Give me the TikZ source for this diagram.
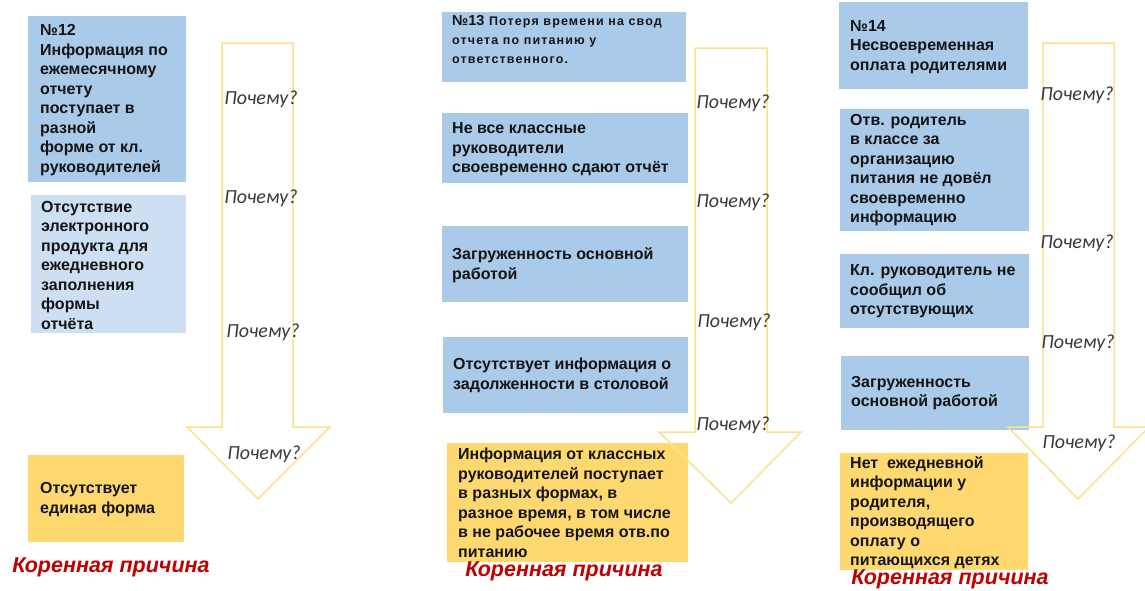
\documentclass[tikz,border=0pt]{standalone}
\usepackage{fontspec}
\setmainfont{Liberation Sans}
\newfontfamily\whyfont{Carlito}
\definecolor{cblue}{HTML}{AACAEA}
\definecolor{clblue}{HTML}{CDE0F3}
\definecolor{cyel}{HTML}{FFD970}
\definecolor{carrow}{HTML}{FFE08A}
\definecolor{cgray}{HTML}{3A3A3A}
\definecolor{cred}{HTML}{C00000}
\definecolor{ctext}{HTML}{141414}
\tikzset{
  boxbase/.style={draw=none, inner sep=0pt, anchor=north west},
  bluebox/.style={boxbase, fill=cblue},
  lbluebox/.style={boxbase, fill=clblue},
  yelbox/.style={boxbase, fill=cyel},
  txt/.style={anchor=west, align=left, inner sep=0pt, text=ctext,
    font=\fontsize{16}{19.5}\selectfont\bfseries},
  smalltxt/.style={anchor=west, align=left, inner sep=0pt, text=ctext,
    font=\fontsize{12.5}{19}\selectfont\bfseries\addfontfeature{LetterSpace=9}},
  whytxt/.style={inner sep=0pt, text=cgray,
    font=\whyfont\itshape\fontsize{20}{22}\selectfont},
  roottxt/.style={inner sep=0pt, text=cred,
    font=\fontsize{21.5}{24}\selectfont\bfseries\itshape},
  bigarrow/.style={draw=carrow, line width=1.5pt, line join=miter}
}
\begin{document}
\begin{tikzpicture}[x=1pt,y=-1pt]
\useasboundingbox[fill=white] (0,0) rectangle (1145,590);

% ---------- Column 1 ----------
\node[bluebox, minimum width=158pt, minimum height=166pt] (a1) at (28,16) {};
\node[txt] (ta1) at ([xshift=12pt,yshift=-1pt]a1.west) {№12\\Информация по\\ежемесячному\\отчету\\поступает в\\разной\\форме от кл.\\руководителей};
\node[lbluebox, minimum width=155pt, minimum height=138pt] (a2) at (31,195) {};
\node[txt] (ta2) at ([xshift=10pt,yshift=-1pt]a2.west) {Отсутствие\\электронного\\продукта для\\ежедневного\\заполнения\\формы\\отчёта};
\node[yelbox, minimum width=156pt, minimum height=87pt] (a3) at (28,455) {};
\node[txt] (ta3) at ([xshift=12pt,yshift=-1pt]a3.west) {Отсутствует\\единая форма};

\draw[bigarrow] (222,43) -- (293,43) -- (293,427) -- (330,427) -- (258,499) -- (187,427) -- (222,427) -- cycle;
\node[whytxt] (wa1) at (261,99) {Почему?};
\node[whytxt] (wa2) at (261,198) {Почему?};
\node[whytxt] (wa3) at (263,332) {Почему?};
\node[whytxt] (wa4) at (264,454) {Почему?};
\node[roottxt] (ra) at (111,567) {Коренная причина};

% ---------- Column 2 ----------
\node[bluebox, minimum width=244pt, minimum height=70pt] (b1) at (442,12) {};
\node[smalltxt] (tb1) at ([xshift=10pt,yshift=8pt]b1.west) {{\fontsize{14.5}{19}\selectfont\addfontfeature{LetterSpace=0}№13} Потеря времени на свод\\отчета по питанию у\\ответственного.};
\node[bluebox, minimum width=246pt, minimum height=70pt] (b2) at (442,113) {};
\node[txt] (tb2) at ([xshift=10pt,yshift=-1pt]b2.west) {Не все классные\\руководители\\своевременно сдают отчёт};
\node[bluebox, minimum width=246pt, minimum height=76pt] (b3) at (442,226) {};
\node[txt] (tb3) at ([xshift=10pt,yshift=-1pt]b3.west) {Загруженность основной\\работой};
\node[bluebox, minimum width=245pt, minimum height=76pt] (b4) at (443,337) {};
\node[txt] (tb4) at ([xshift=10pt]b4.west) {Отсутствует информация о\\задолженности в столовой};
\node[yelbox, minimum width=241pt, minimum height=119pt] (b5) at (447,443) {};
\node[txt] (tb5) at ([xshift=11pt]b5.west) {Информация от классных\\руководителей поступает\\в разных формах, в\\разное время, в том числе\\в не рабочее время отв.по\\питанию};

\draw[bigarrow] (695,48) -- (767,48) -- (767,432) -- (801,432) -- (731,503) -- (659,432) -- (695,432) -- cycle;
\node[whytxt] (wb1) at (733,103) {Почему?};
\node[whytxt] (wb2) at (733,202) {Почему?};
\node[whytxt] (wb3) at (734,322) {Почему?};
\node[whytxt] (wb4) at (733,425) {Почему?};
\node[roottxt] (rb) at (564,571) {Коренная причина};

% ---------- Column 3 ----------
\node[bluebox, minimum width=189pt, minimum height=87pt] (c1) at (839,2) {};
\node[txt] (tc1) at ([xshift=11pt,yshift=-1pt]c1.west) {№14\\Несвоевременная\\оплата родителями};
\node[bluebox, minimum width=189pt, minimum height=122pt] (c2) at (840,109) {};
\node[txt] (tc2) at ([xshift=10pt]c2.west) {Отв. родитель\\в классе за\\организацию\\питания не довёл\\своевременно\\информацию};
\node[bluebox, minimum width=189pt, minimum height=74pt] (c3) at (840,254) {};
\node[txt] (tc3) at ([xshift=10pt]c3.west) {Кл. руководитель не\\сообщил об\\отсутствующих};
\node[bluebox, minimum width=188pt, minimum height=74pt] (c4) at (841,356) {};
\node[txt] (tc4) at ([xshift=10pt]c4.west) {Загруженность\\основной работой};
\node[yelbox, minimum width=188pt, minimum height=117pt] (c5) at (840,453) {};
\node[txt] (tc5) at ([xshift=10pt,yshift=-1pt]c5.west) {Нет\ \ ежедневной\\информации у\\родителя,\\производящего\\оплату о\\питающихся детях};

\draw[bigarrow] (1043,43) -- (1114,43) -- (1114,427) -- (1149,427) -- (1078,499) -- (1008,427) -- (1043,427) -- cycle;
\node[whytxt] (wc1) at (1077,95) {Почему?};
\node[whytxt] (wc2) at (1077,243) {Почему?};
\node[whytxt] (wc3) at (1078,343) {Почему?};
\node[whytxt] (wc4) at (1079,443) {Почему?};
\node[roottxt] (rc) at (950,579) {Коренная причина};
\end{tikzpicture}
\end{document}
